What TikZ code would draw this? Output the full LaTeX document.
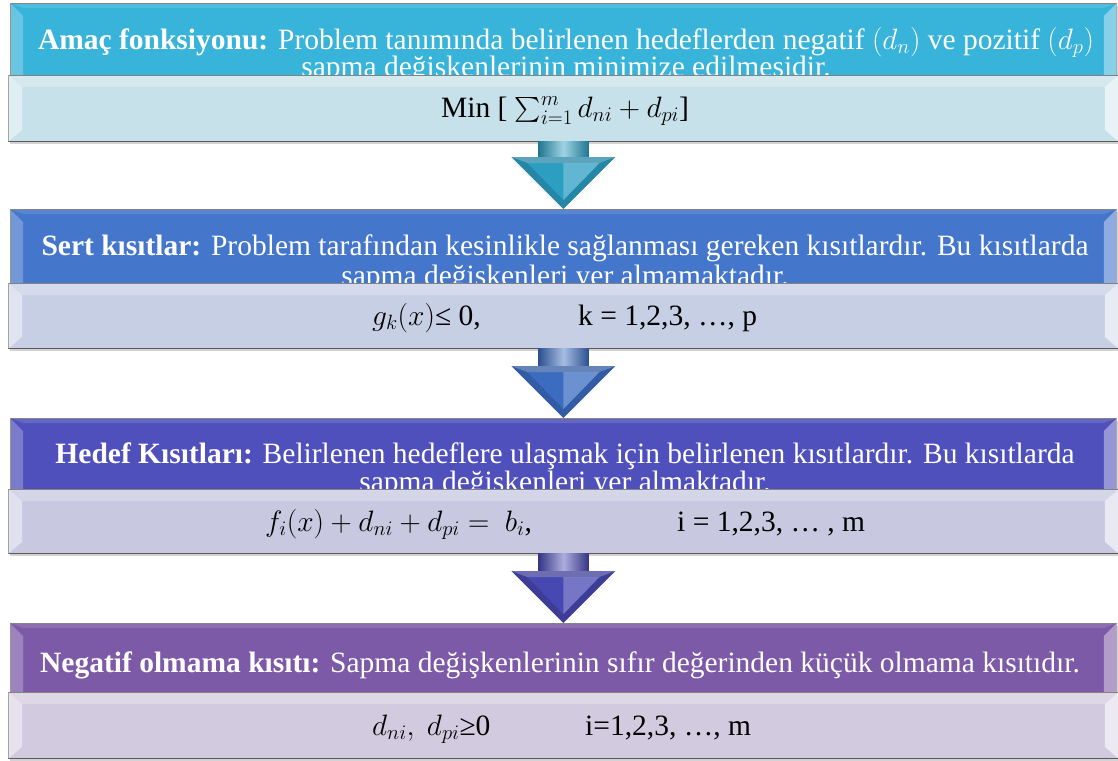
\documentclass[tikz,border=0pt]{standalone}
\usepackage{fix-cm}
\usepackage{amsmath}
\usepackage{fontspec}
\setmainfont{Liberation Serif}
\usetikzlibrary{calc,shadows}
\definecolor{hA}{HTML}{38B3DA}
\definecolor{lA}{HTML}{C6E3EB}
\definecolor{aA}{HTML}{2C9EC2}
\definecolor{hB}{HTML}{4476CB}
\definecolor{lB}{HTML}{C7CFE6}
\definecolor{aB}{HTML}{3B6CC0}
\definecolor{hC}{HTML}{5050BC}
\definecolor{lC}{HTML}{C8C8E3}
\definecolor{aC}{HTML}{4848B3}
\definecolor{hD}{HTML}{7D5AA7}
\definecolor{lD}{HTML}{D3CADF}
\tikzset{
  bigfont/.style={font=\fontsize{29.5}{32}\selectfont},
  hdr/.style={draw=black!55, line width=0.8pt, inner sep=0pt, anchor=north west,
    minimum width=1106pt, drop shadow={opacity=0.3,shadow xshift=1.5pt,shadow yshift=-2.5pt}},
  lgt/.style={draw=black!65, line width=0.9pt, inner sep=0pt, anchor=north west,
    minimum width=1110pt, fill opacity=0.93, drop shadow={opacity=0.35,shadow xshift=1.5pt,shadow yshift=-2.5pt}},
  htxt/.style={bigfont, text=white, anchor=base, inner sep=0pt},
  ltxt/.style={bigfont, text=black, anchor=base west, inner sep=0pt},
  lctr/.style={bigfont, text=black, anchor=base, inner sep=0pt},
}
\newcommand\hbevel[1]{%
  \fill[white,opacity=0.25] (#1.north west) -- ($(#1.north west)+(13,13)$) -- ($(#1.south west)+(13,0)$) -- (#1.south west) -- cycle;
  \fill[white,opacity=0.4] (#1.north east) -- ($(#1.north east)+(-13,13)$) -- ($(#1.south east)+(-13,0)$) -- (#1.south east) -- cycle;
  \fill[white,opacity=0.12] (#1.north west) -- (#1.north east) -- ($(#1.north east)+(-13,5)$) -- ($(#1.north west)+(13,5)$) -- cycle;
}
\newcommand\lbevel[1]{%
  \fill[white,opacity=0.45] (#1.north west) -- ($(#1.north west)+(14,12)$) -- ($(#1.south west)+(14,-12)$) -- (#1.south west) -- cycle;
  \fill[white,opacity=0.6] (#1.north east) -- ($(#1.north east)+(-14,12)$) -- ($(#1.south east)+(-14,-12)$) -- (#1.south east) -- cycle;
  \fill[white,opacity=0.25] (#1.north west) -- (#1.north east) -- ($(#1.north east)+(-14,12)$) -- ($(#1.north west)+(14,12)$) -- cycle;
}
\newcommand\blockarrow[3]{%
  \shade[left color=#3!75!black, right color=#3!75!black, middle color=#3!45!white]
    ($(#1.south)+(-25,0)$) rectangle ($(#2.north)+(25,-50)$);
  \fill[#3!85!black] ($(#2.north)+(-52,-52)$) -- ($(#2.north)+(52,-52)$) -- (#2.north) -- cycle;
  \fill[#3] ($(#2.north)+(-36,-46)$) -- ($(#2.north)+(36,-46)$) -- ($(#2.north)+(0,-9)$) -- cycle;
  \fill[#3!75!white] ($(#2.north)+(0,-46)$) -- ($(#2.north)+(36,-46)$) -- ($(#2.north)+(0,-9)$) -- cycle;
  \fill[white,opacity=0.25] ($(#2.north)+(-52,-52)$) -- ($(#2.north)+(52,-52)$) -- ($(#2.north)+(36,-46)$) -- ($(#2.north)+(-36,-46)$) -- cycle;
}
\begin{document}
\begin{tikzpicture}[x=1pt,y=-1pt]
\useasboundingbox[fill=white] (0,0) rectangle (1118,760);
% ---- block 1
\node[hdr, fill=hA, minimum height=72pt] (h1) at (10,3) {};
\hbevel{h1}
\node[htxt] (t1a) at (566,49) {\textbf{Amaç fonksiyonu:} Problem tanımında belirlenen hedeflerden negatif $(d_n)$ ve pozitif $(d_p)$};
\node[htxt] (t1b) at (566,77) {sapma değişkenlerinin minimize edilmesidir.};
\node[lgt, fill=lA, minimum height=66pt] (l1) at (8,75) {};
\lbevel{l1}
\node[lctr] (m1) at (565,117) {Min [ $\sum_{i=1}^{m} d_{ni}+d_{pi}$]};
% ---- block 2
\node[hdr, fill=hB, minimum height=74pt] (h2) at (10,209) {};
\hbevel{h2}
\node[htxt] (t2a) at (565,255) {\textbf{Sert kısıtlar:} Problem tarafından kesinlikle sağlanması gereken kısıtlardır. Bu kısıtlarda};
\node[htxt] (t2b) at (565,285) {sapma değişkenleri yer almamaktadır.};
\node[lgt, fill=lB, minimum height=65pt] (l2) at (8,283) {};
\lbevel{l2}
\node[ltxt] (m2a) at (372,325) {$g_k(x)$≤ 0,};
\node[ltxt] (m2b) at (578,325) {k = 1,2,3, …, p};
% ---- block 3
\node[hdr, fill=hC, minimum height=71pt] (h3) at (10,418) {};
\hbevel{h3}
\node[htxt] (t3a) at (565,463) {\textbf{Hedef Kısıtları:} Belirlenen hedeflere ulaşmak için belirlenen kısıtlardır. Bu kısıtlarda};
\node[htxt] (t3b) at (565,491) {sapma değişkenleri yer almaktadır.};
\node[lgt, fill=lC, minimum height=64pt] (l3) at (8,489) {};
\lbevel{l3}
\node[ltxt] (m3a) at (265,531) {$f_i(x)+d_{ni}+d_{pi}=\ b_i$,};
\node[ltxt] (m3b) at (677,531) {i = 1,2,3, … , m};
% ---- block 4
\node[hdr, fill=hD, minimum height=69pt] (h4) at (10,623) {};
\hbevel{h4}
\node[htxt] (t4a) at (560,672) {\textbf{Negatif olmama kısıtı:} Sapma değişkenlerinin sıfır değerinden küçük olmama kısıtıdır.};
\node[lgt, fill=lD, minimum height=66pt] (l4) at (8,692) {};
\lbevel{l4}
\node[ltxt] (m4a) at (372,735) {$d_{ni},\ d_{pi}$≥0};
\node[ltxt] (m4b) at (585,735) {i=1,2,3, …, m};
% ---- arrows
\blockarrow{l1}{h2}{aA}
\blockarrow{l2}{h3}{aB}
\blockarrow{l3}{h4}{aC}
\end{tikzpicture}
\end{document}
